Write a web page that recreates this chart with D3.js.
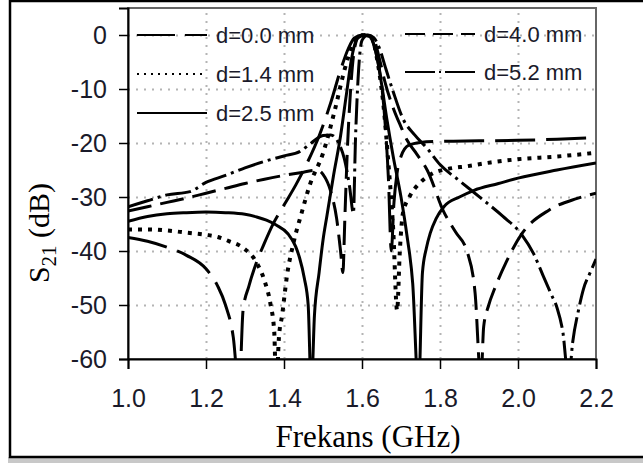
<!DOCTYPE html>
<html>
<head>
<meta charset="utf-8">
<script src="https://cdn.jsdelivr.net/npm/d3@7"></script>
<style>
  body { margin: 0; background: #fff; }
  svg { display: block; }
</style>
</head>
<body>
<div id="chart"></div>
<script>
// S21 vs frequency for five spacings d

const xTicks = [1.0, 1.2, 1.4, 1.6, 1.8, 2.0, 2.2];
const yTicks = [0, -10, -20, -30, -40, -50, -60];
const seriesNames = ["d=0.0 mm", "d=1.4 mm", "d=2.5 mm", "d=4.0 mm", "d=5.2 mm"];

// [GHz, dB]
const s21_d00 = [[1.00,-37.5],[1.05,-38.2],[1.10,-39.3],[1.15,-40.8],[1.20,-43.3],[1.23,-46.5],[1.25,-50],
  [1.27,-56],[1.285,-66],[1.295,-51],[1.31,-46.5],[1.33,-42],[1.35,-38.5],[1.37,-35.3],[1.40,-31.5],
  [1.43,-27.8],[1.46,-23.6],[1.49,-18.7],[1.52,-12.5],[1.545,-6.5],[1.565,-2.5],[1.58,-0.6],[1.60,0],
  [1.62,-0.4],[1.635,-3],[1.65,-9],[1.66,-17],[1.668,-27],[1.675,-40],[1.682,-31],[1.69,-25.5],
  [1.70,-22.5],[1.72,-20.4],[1.75,-19.9],[1.80,-19.7],[1.90,-19.6],[2.00,-19.5],[2.10,-19.3],[2.20,-19.0]];

const s21_d14 = [[1.00,-36],[1.05,-36],[1.10,-36.2],[1.15,-36.6],[1.20,-37],[1.23,-37.4],[1.26,-38.2],
  [1.295,-39.4],[1.33,-42.2],[1.35,-45.5],[1.365,-49.7],[1.375,-55],[1.38,-66],[1.387,-56],[1.395,-52],
  [1.408,-44.4],[1.425,-38.3],[1.445,-33],[1.466,-27.8],[1.50,-21.9],[1.53,-14],[1.555,-6.5],[1.575,-2],
  [1.59,-0.3],[1.61,0],[1.625,-0.6],[1.64,-5],[1.655,-13],[1.668,-24],[1.68,-36],[1.69,-51],[1.697,-40],
  [1.705,-33],[1.723,-29.8],[1.75,-27.3],[1.782,-25.6],[1.82,-24.8],[1.87,-24.3],[1.93,-23.6],
  [2.00,-23],[2.10,-22.5],[2.20,-21.8]];

const s21_d25 = [[1.00,-34.5],[1.05,-33.6],[1.10,-33.1],[1.15,-32.9],[1.20,-32.8],[1.25,-32.9],[1.30,-33.2],
  [1.33,-33.7],[1.355,-34.3],[1.38,-35.2],[1.41,-36.8],[1.43,-39.2],[1.44,-41.3],[1.452,-45],[1.462,-50],
  [1.47,-66],[1.478,-52],[1.49,-44],[1.50,-38],[1.51,-33.5],[1.527,-26],[1.545,-18.7],[1.56,-11],
  [1.573,-4.5],[1.585,-1],[1.60,0],[1.62,-0.3],[1.635,-3],[1.65,-9],[1.664,-15.7],[1.68,-22.5],
  [1.70,-30],[1.715,-37],[1.73,-46],[1.745,-66],[1.755,-44],[1.765,-39.5],[1.775,-36.7],[1.79,-34],
  [1.81,-31.8],[1.85,-30],[1.886,-28.8],[1.95,-27.5],[2.00,-26.5],[2.10,-25],[2.20,-23.7]];

const s21_d40 = [[1.00,-32.6],[1.05,-31.8],[1.10,-31],[1.15,-30.2],[1.20,-29.3],[1.25,-28.4],[1.30,-27.5],
  [1.35,-26.7],[1.40,-26],[1.45,-25.4],[1.485,-25],[1.50,-25.8],[1.52,-29],[1.535,-34],[1.545,-40],
  [1.551,-44],[1.556,-34],[1.562,-22],[1.57,-11],[1.578,-4],[1.59,-0.5],[1.61,0],[1.63,-0.8],
  [1.645,-4.5],[1.66,-9],[1.68,-13.5],[1.70,-17],[1.715,-19.4],[1.74,-22],[1.767,-25],[1.81,-32.8],
  [1.84,-36.5],[1.87,-40.2],[1.89,-47.8],[1.905,-64],[1.912,-54],[1.925,-50],[1.94,-47],[1.97,-42],
  [2.01,-36.8],[2.08,-32.4],[2.15,-30.3],[2.20,-29.3]];

const s21_d52 = [[1.00,-31.8],[1.05,-30.7],[1.10,-29.6],[1.159,-29],[1.20,-27.3],[1.25,-26],[1.30,-24.6],
  [1.35,-23.4],[1.40,-22.4],[1.44,-21.6],[1.47,-20],[1.50,-18.6],[1.52,-18.5],[1.54,-20],[1.555,-23],
  [1.568,-28],[1.578,-33],[1.583,-20],[1.59,-8],[1.60,-1],[1.615,0],[1.63,-0.5],[1.645,-2.5],
  [1.66,-6],[1.68,-10.5],[1.705,-15.5],[1.735,-18.5],[1.767,-21],[1.80,-24],[1.85,-27],[1.91,-30.5],
  [1.96,-33.5],[2.01,-37],[2.04,-40.5],[2.064,-44.5],[2.085,-48],[2.10,-50.5],[2.115,-55],[2.13,-64],
  [2.14,-57],[2.155,-51],[2.168,-47],[2.185,-44],[2.20,-41.5]];

const seriesData = [s21_d00, s21_d14, s21_d25, s21_d40, s21_d52];

// line styles per series (plot / legend)
const plotDash = ["40,11", "4,6", null, "24,9", "26,5,3,5"];
const plotWidth = [3, 4, 3, 3, 3];
const legendDash = ["38,10", "2,5", null, "20,8", "30,4,2,4"];

const W = 643, H = 463;
const margin = {top: 8, right: 47, bottom: 104, left: 128},
  width = W - margin.left - margin.right,
  height = H - margin.top - margin.bottom;

const root = d3.select("#chart").append("svg")
  .attr("width", W).attr("height", H);

root.append("rect").attr("width", W).attr("height", H).attr("fill", "#fff");

// outer box with shadow
root.append("rect")
  .attr("x", 8).attr("y", 457).attr("width", W).attr("height", 6)
  .attr("fill", "#c8c8c8");
root.append("rect")
  .attr("x", 10).attr("y", 1).attr("width", W + 20).attr("height", 456)
  .attr("fill", "#fff").attr("stroke", "#000").attr("stroke-width", 2.5);

const svg = root.append("g")
  .attr("transform", `translate(${margin.left},${margin.top})`);

const x = d3.scaleLinear().domain([1.0, 2.2]).range([0, width]);
const y = d3.scaleLinear().domain([-60, 5]).range([height, 0]);

// dotted grid
svg.append("g")
  .attr("transform", `translate(0,${height})`)
  .call(d3.axisBottom(x).tickValues(xTicks.slice(1, -1)).tickSize(-height).tickFormat(""))
  .call(g => g.select(".domain").remove())
  .call(g => g.selectAll("line").attr("stroke", "#b4b4b4").attr("stroke-width", 2)
    .attr("stroke-dasharray", "2,6"));
svg.append("g")
  .call(d3.axisLeft(y).tickValues(yTicks.slice(0, -1)).tickSize(-width).tickFormat(""))
  .call(g => g.select(".domain").remove())
  .call(g => g.selectAll("line").attr("stroke", "#b4b4b4").attr("stroke-width", 2)
    .attr("stroke-dasharray", "2,6"));

// frame
svg.append("rect")
  .attr("width", width).attr("height", height)
  .attr("fill", "none").attr("stroke", "#666").attr("stroke-width", 2);

// curves
svg.append("clipPath").attr("id", "clip")
  .append("rect").attr("width", width).attr("height", height);

const line = d3.line()
  .x(d => x(d[0]))
  .y(d => y(d[1]))
  .curve(d3.curveMonotoneX);

svg.append("g").attr("clip-path", "url(#clip)")
  .selectAll("path")
  .data(seriesData)
  .join("path")
  .attr("d", line)
  .attr("fill", "none")
  .attr("stroke", "#000")
  .attr("stroke-width", (d, i) => plotWidth[i])
  .attr("stroke-dasharray", (d, i) => plotDash[i]);

// axes
svg.append("g")
  .attr("transform", `translate(0,${height})`)
  .call(d3.axisBottom(x).tickValues(xTicks).tickSize(10).tickPadding(20).tickFormat(d3.format(".1f")))
  .call(g => g.select(".domain").attr("stroke", "#000").attr("stroke-width", 2))
  .call(g => g.selectAll("line").attr("stroke", "#000").attr("stroke-width", 1.5))
  .call(g => g.selectAll("text").attr("fill", "#1a1a2a")
    .style("font", "25px 'Liberation Sans', Arial, sans-serif"));

svg.append("g")
  .call(d3.axisLeft(y).tickValues(yTicks).tickSize(9).tickPadding(12).tickFormat(d => String(d)))
  .call(g => g.select(".domain").attr("stroke", "#000").attr("stroke-width", 2))
  .call(g => g.selectAll("line").attr("stroke", "#000").attr("stroke-width", 1.5))
  .call(g => g.selectAll("text").attr("fill", "#1a1a2a")
    .style("font", "25px 'Liberation Sans', Arial, sans-serif"));

// axis titles
root.append("text")
  .attr("x", 368).attr("y", 447)
  .attr("text-anchor", "middle")
  .style("font", "31px 'Liberation Serif', 'Times New Roman', serif")
  .text("Frekans (GHz)");

const ylab = root.append("text")
  .attr("transform", "translate(49,233) rotate(-90)")
  .attr("text-anchor", "middle")
  .style("font", "30px 'Liberation Serif', 'Times New Roman', serif");
ylab.append("tspan").text("S");
ylab.append("tspan").attr("dy", 7).style("font-size", "21px").text("21");
ylab.append("tspan").attr("dy", -7).text(" (dB)");

// legend
const legendPos = [[137, 35], [137, 74], [137, 113], [405, 34], [405, 72]];
const leg = root.append("g");
seriesNames.forEach((name, i) => {
  const [lx, ly] = legendPos[i];
  leg.append("line")
    .attr("x1", lx).attr("x2", lx + 70)
    .attr("y1", ly).attr("y2", ly)
    .attr("stroke", "#000").attr("stroke-width", 2)
    .attr("stroke-dasharray", legendDash[i]);
  leg.append("text")
    .attr("x", lx + 79).attr("y", ly).attr("dy", "0.36em")
    .attr("fill", "#1a1a2a")
    .style("font", "22px 'Liberation Sans', Arial, sans-serif")
    .text(name);
});
</script>
</body>
</html>
